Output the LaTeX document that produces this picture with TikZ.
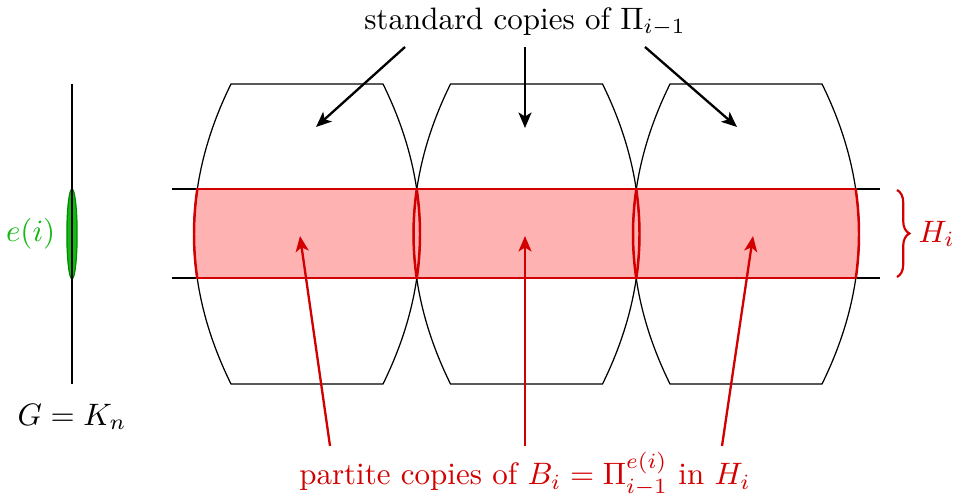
\documentclass[tikz,border=0pt]{standalone}
\usetikzlibrary{arrows.meta,decorations.pathreplacing,shapes.geometric}
\definecolor{myred}{RGB}{210,0,0}
\definecolor{mypink}{RGB}{255,178,178}
\definecolor{mygreen}{RGB}{20,185,20}
\tikzset{
  outline/.style={draw=black, line width=0.4pt},
  bandline/.style={draw=black, line width=0.8pt},
  redline/.style={draw=myred, line width=0.8pt},
  blackarrow/.style={draw=black, line width=0.75pt, -{Stealth[length=5pt,width=4.2pt,inset=1.3pt]}},
  redarrow/.style={draw=myred, line width=0.75pt, -{Stealth[length=5pt,width=4.2pt,inset=1.3pt]}},
  lbl/.style={inner sep=1pt, font=\normalsize},
}
% shape outline at horizontal offset #1 (pixels)
\newcommand{\copyshape}[1]{%
  (231+#1,84) -- (383+#1,84)
  .. controls (432.33+#1,184) and (432.33+#1,284) .. (383+#1,384)
  -- (231+#1,384)
  .. controls (181.67+#1,284) and (181.67+#1,184) .. (231+#1,84) -- cycle}
\newcommand{\leftside}[1]{(231+#1,384) .. controls (181.67+#1,284) and (181.67+#1,184) .. (231+#1,84)}
\newcommand{\rightside}[1]{(383+#1,84) .. controls (432.33+#1,184) and (432.33+#1,284) .. (383+#1,384)}
\begin{document}
\begin{tikzpicture}[x=0.3226pt,y=-0.3226pt]
\useasboundingbox (0,0) rectangle (953,496);

% pink band fill inside the copies
\begin{scope}
  \clip (150,189) rectangle (900,278);
  \fill[mypink] \copyshape{0};
  \fill[mypink] \copyshape{219.5};
  \fill[mypink] \copyshape{439};
\end{scope}

% outlines of the standard copies
\path[outline] \copyshape{0};
\path[outline] \copyshape{219.5};
\path[outline] \copyshape{439};

% black band lines
\coordinate (bl1) at (172,189);
\coordinate (br1) at (880,189);
\coordinate (bl2) at (172,278);
\coordinate (br2) at (880,278);
\path[bandline] (bl1) -- (br1);
\path[bandline] (bl2) -- (br2);

% red outline of the band region
\begin{scope}
  \clip (150,188.2) rectangle (900,278.8);
  \path[redline] \leftside{0};
  \path[redline] \rightside{0};
  \path[redline] \leftside{219.5};
  \path[redline] \rightside{219.5};
  \path[redline] \leftside{439};
  \path[redline] \rightside{439};
\end{scope}
\coordinate (rl1) at (197,189);
\coordinate (rr1) at (855,189);
\coordinate (rl2) at (197,278);
\coordinate (rr2) at (855,278);
\path[redline] (rl1) -- (rr1);
\path[redline] (rl2) -- (rr2);

% graph G on the left
\coordinate (gtop) at (72,84);
\coordinate (gbot) at (72,384);
\node[ellipse, draw=green!55!black, fill=mygreen, line width=0.4pt,
      minimum width=3.3pt, minimum height=29pt, inner sep=0pt] (edge) at (72,234) {};
\path[draw=black, line width=0.4pt] (gtop) -- (gbot);
\node[lbl, text=mygreen, anchor=east] (elabel) at (59,234) {$e(i)$};
\node[lbl] (glabel) at (72,417) {$G = K_n$};

% top label and arrows
\node[lbl] (top) at (525,22) {standard copies of $\Pi_{i-1}$};
\coordinate (ts1) at (405,47);
\coordinate (ts2) at (525,47);
\coordinate (ts3) at (645,47);
\coordinate (te1) at (316,127);
\coordinate (te2) at (525,128);
\coordinate (te3) at (737,127);
\path[blackarrow] (ts1) -- (te1);
\path[blackarrow] (ts2) -- (te2);
\path[blackarrow] (ts3) -- (te3);

% bottom label and arrows
\node[lbl, text=myred] (bottom) at (525,474) {partite copies of $B_i = \Pi_{i-1}^{e(i)}$ in $H_i$};
\coordinate (bs1) at (330,446);
\coordinate (bs2) at (525,446);
\coordinate (bs3) at (722,446);
\coordinate (be1) at (300,236);
\coordinate (be2) at (525,236);
\coordinate (be3) at (753,236);
\path[redarrow] (bs1) -- (be1);
\path[redarrow] (bs2) -- (be2);
\path[redarrow] (bs3) -- (be3);

% brace H_i
\coordinate (brt) at (897,190);
\coordinate (brb) at (897,277);
\draw[myred, line width=0.7pt, decorate, decoration={brace, amplitude=4pt}] (brt) -- (brb);
\node[lbl, text=myred, anchor=west] (hlabel) at (915,234) {$H_i$};
\end{tikzpicture}
\end{document}
